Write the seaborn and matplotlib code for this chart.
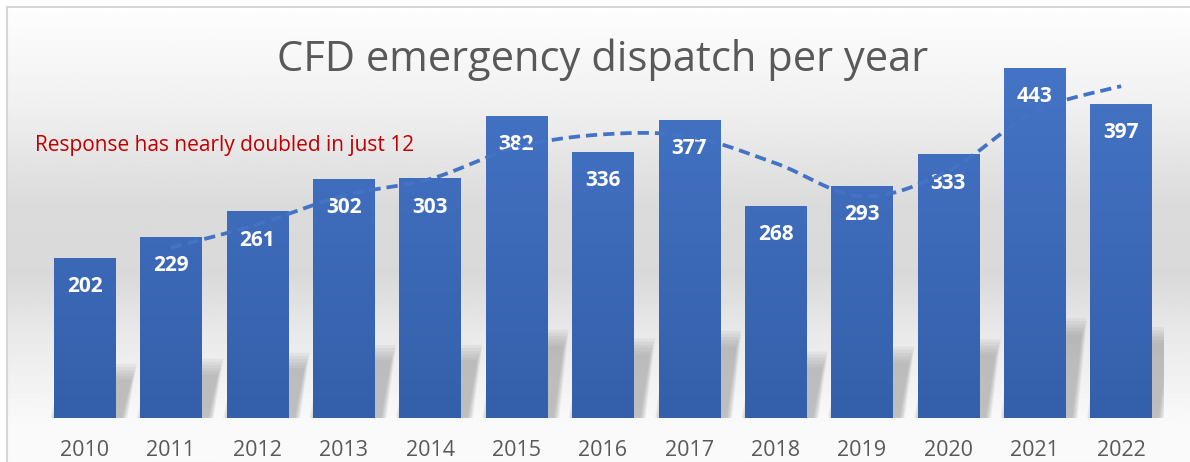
import numpy as np
import pandas as pd
import matplotlib
matplotlib.use("Agg")
import matplotlib.pyplot as plt
import seaborn as sns
from matplotlib.patches import Polygon
from matplotlib.colors import LinearSegmentedColormap

# ---------------- data ----------------
years = ["2010", "2011", "2012", "2013", "2014", "2015", "2016",
         "2017", "2018", "2019", "2020", "2021", "2022"]
dispatches = [202, 229, 261, 302, 303, 382, 336, 377, 268, 293, 333, 443, 397]
title_text = "CFD emergency dispatch per year"
note_text = "Response has nearly doubled in just 12"

df = pd.DataFrame({"year": years, "dispatches": dispatches})

sns.set_theme(style="white")
plt.rcParams["font.family"] = ["Open Sans", "DejaVu Sans"]

W, H = 1190, 462
fig = plt.figure(figsize=(W / 100, H / 100), dpi=100)
fig.patch.set_facecolor("white")

# ---------------- background (gradient + border) ----------------
bg = fig.add_axes([0, 0, 1, 1], zorder=-10)
bg.set_xlim(0, W)
bg.set_ylim(H, 0)
bg.axis("off")
yy = np.arange(H)
prof_y = [0, 7, 100, 200, 270, 330, 380, 420, 462]
prof_v = [255, 253, 240, 219, 217, 233, 242, 249, 250]
g = np.interp(yy, prof_y, prof_v) / 255.0
img = np.repeat(g[:, None], 4, axis=1)
bg.imshow(img, cmap="gray", vmin=0, vmax=1, aspect="auto",
          extent=[7, W, H, 7], interpolation="bilinear")
bg.plot([7, 7], [7, H], color="#d6d6d6", lw=1.5)
bg.plot([7, W], [7, 7], color="#d6d6d6", lw=1.5)
bg.set_xlim(0, W)
bg.set_ylim(H, 0)

# ---------------- main axes ----------------
x_left = 41.3
x_right = 1164.3
base_px = 418
ymax = 500
px_per_unit = 0.79
ax = fig.add_axes([x_left / W, (H - base_px) / H, (x_right - x_left) / W,
                   ymax * px_per_unit / H])
ax.patch.set_alpha(0)

sns.barplot(data=df, x="year", y="dispatches", color="#4472C4",
            width=0.71, saturation=1, ax=ax, zorder=3)

bar_cmap = LinearSegmentedColormap.from_list("bars", ["#345FAA", "#4574C6"])
for p in ax.patches:
    x0, w, h = p.get_x(), p.get_width(), p.get_height()
    grad = np.linspace(0, h / 443.0, 128)[:, None]
    ax.imshow(grad, cmap=bar_cmap, vmin=0, vmax=1, origin="lower",
              extent=[x0, x0 + w, 0, h], aspect="auto", zorder=3,
              interpolation="bilinear")
    p.set_visible(False)

    # perspective floor shadow (blurred by layering)
    sh = 0.24 * h
    skew = 0.17
    for k in range(6):
        e = 0.012 * k
        poly = Polygon([[x0 + 0.02 - e, 0],
                        [x0 + w + 0.08 + e, 0],
                        [x0 + w + skew + 0.02 + e, sh + 4 * k],
                        [x0 + skew - e, sh + 4 * k]],
                       closed=True, facecolor="#8c8c8c", edgecolor="none",
                       alpha=0.11, zorder=2)
        ax.add_patch(poly)

# value labels
for i, v in enumerate(dispatches):
    ax.text(i, v - 36, str(v), ha="center", va="center", color="white",
            fontsize=15, fontweight="bold", zorder=4)

# 2-period moving average trendline, smoothed
ma = df["dispatches"].rolling(2).mean().to_numpy()
mx = np.arange(len(ma))[1:]
my = ma[1:]


def catmull_rom(x, y, n=24):
    px = np.concatenate([[x[0]], x, [x[-1]]])
    py = np.concatenate([[y[0]], y, [y[-1]]])
    outx, outy = [], []
    t = np.linspace(0, 1, n, endpoint=False)
    for i in range(1, len(px) - 2):
        for arr, out in ((px, outx), (py, outy)):
            p0, p1, p2, p3 = arr[i - 1], arr[i], arr[i + 1], arr[i + 2]
            out.extend(0.5 * ((2 * p1) + (-p0 + p2) * t +
                              (2 * p0 - 5 * p1 + 4 * p2 - p3) * t ** 2 +
                              (-p0 + 3 * p1 - 3 * p2 + p3) * t ** 3))
    outx.append(x[-1])
    outy.append(y[-1])
    return np.array(outx), np.array(outy)


sx, sy = catmull_rom(mx, my)
ax.plot(sx, sy, color="#4472C4", lw=2.7, dashes=(3.0, 1.6), zorder=5)

ax.set_xlim(-0.5, len(years) - 0.5)
ax.set_ylim(0, ymax)
ax.set_xlabel("")
ax.set_ylabel("")
ax.set_yticks([])
sns.despine(ax=ax, left=True, bottom=True)
ax.tick_params(axis="x", length=0, pad=16, labelsize=15.5, colors="#595959")
for lab in ax.get_xticklabels():
    lab.set_family(["Liberation Sans Narrow", "Open Sans", "DejaVu Sans"])

fig.text(603 / W, 1 - 60 / H, title_text, ha="center", va="center",
         fontsize=30, color="#595959")
fig.text(35 / W, 1 - 145 / H, note_text, ha="left", va="center",
         fontsize=15, color="#C00000")

fig.savefig("out.png", dpi=100)
